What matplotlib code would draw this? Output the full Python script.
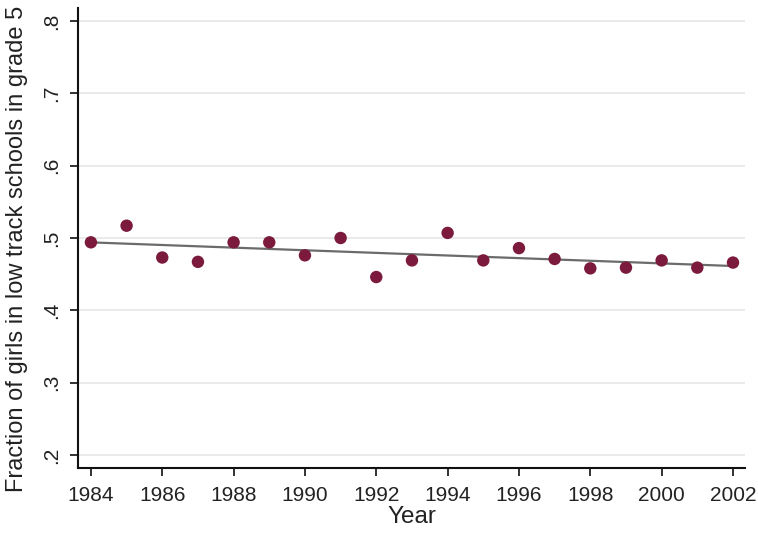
import numpy as np
import matplotlib.pyplot as plt

plt.rcParams['font.family'] = ['Liberation Sans', 'DejaVu Sans']

# data
years = np.arange(1984, 2003)
frac_girls = [0.494, 0.517, 0.473, 0.467, 0.494, 0.494, 0.476, 0.500, 0.446,
              0.469, 0.507, 0.469, 0.486, 0.471, 0.458, 0.459, 0.469, 0.459, 0.466]
xticks = np.arange(1984, 2003, 2)
yticks = [0.2, 0.3, 0.4, 0.5, 0.6, 0.7, 0.8]
ytick_labels = ['.2', '.3', '.4', '.5', '.6', '.7', '.8']

fig = plt.figure(figsize=(7.58, 5.36), dpi=100)
ax = fig.add_axes([0.103, 0.127, 0.88, 0.858])

# linear fit
b, a = np.polyfit(years, frac_girls, 1)
ax.plot(years, a + b * years, color='#6b6b6b', lw=1.6, zorder=2)
ax.scatter(years, frac_girls, s=80, color='#7b1a3c', edgecolor='none', zorder=3)

ax.set_xlim(1983.64, 2002.34)
ax.set_ylim(0.182, 0.818)
ax.set_xticks(xticks)
ax.set_yticks(yticks)
ax.set_yticklabels(ytick_labels, rotation=90, va='center')
ax.tick_params(axis='both', direction='out', length=6, width=1.3, labelsize=15, colors='#222222')
ax.tick_params(axis='y', pad=6)
ax.tick_params(axis='x', pad=7)
ax.yaxis.grid(True, color='#e6e6e6', lw=1.2)
ax.set_axisbelow(True)
for s in ['top', 'right']:
    ax.spines[s].set_visible(False)
for s in ['left', 'bottom']:
    ax.spines[s].set_linewidth(1.5)
    ax.spines[s].set_color('#111111')

ax.set_xlabel('Year', fontsize=17.5, color='#222222', labelpad=1)
ax.set_ylabel('Fraction of girls in low track schools in grade 5', fontsize=17, color='#222222')
ax.yaxis.set_label_coords(-0.075, 0.476)

fig.savefig('out.png', dpi=100)
